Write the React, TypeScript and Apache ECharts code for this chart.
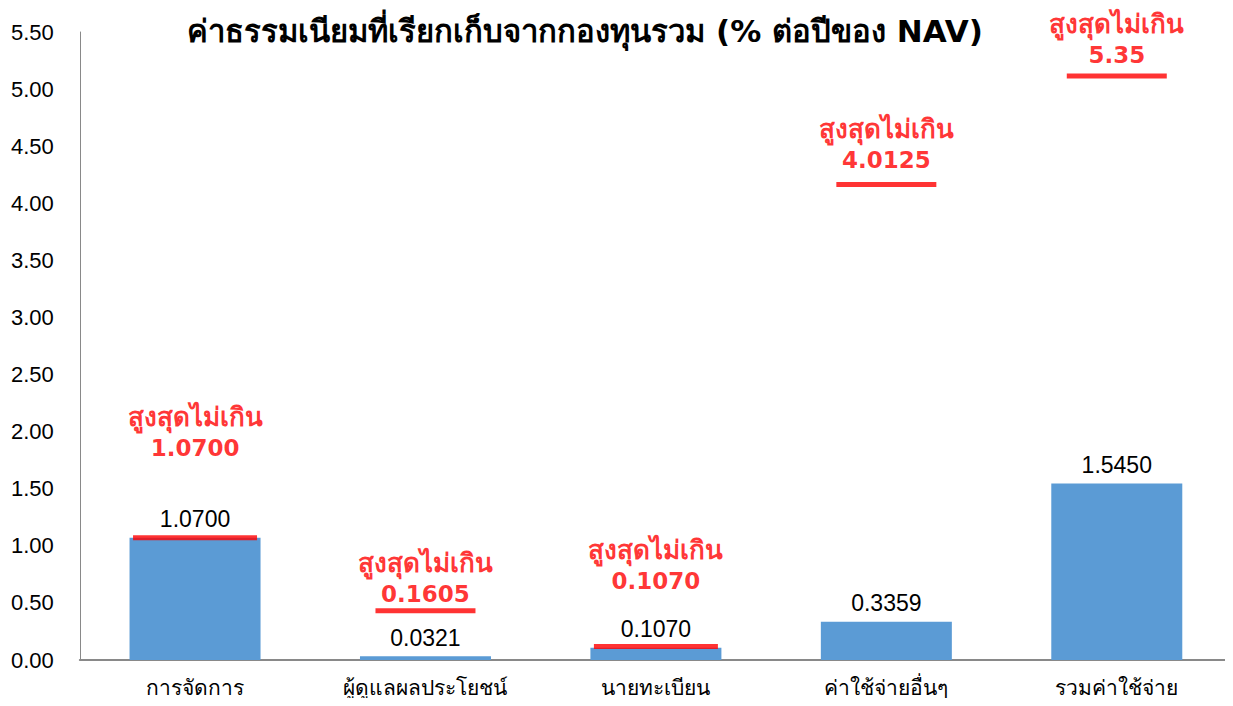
import React, { useEffect, useRef } from "react";
import * as echarts from "echarts";

const categories = ["การจัดการ", "ผู้ดูแลผลประโยชน์", "นายทะเบียน", "ค่าใช้จ่ายอื่นๆ", "รวมค่าใช้จ่าย"];
const actualValues = [1.07, 0.0321, 0.107, 0.3359, 1.545];
const actualLabels = ["1.0700", "0.0321", "0.1070", "0.3359", "1.5450"];
const maxLabels = ["1.0700", "0.1605", "0.1070", "4.0125", "5.35"];
// where the red marker lines and red notes sit on the value axis
const markerLevels = [1.07, 0.431, 0.119, 4.165, 5.115];
const noteLevels = [1.994, 0.712, 0.83, 4.513, 5.438];
const yTicks = ["0.00", "0.50", "1.00", "1.50", "2.00", "2.50", "3.00", "3.50", "4.00", "4.50", "5.00", "5.50"];

const NUM = "'Liberation Sans', sans-serif";
const BOLD = "'DejaVu Sans', sans-serif";

export default function App() {
  const ref = useRef<HTMLDivElement>(null);
  useEffect(() => {
    if (!ref.current) return;
    const chart = echarts.init(ref.current, null, { renderer: "svg" });
    chart.setOption({
      animation: false,
      backgroundColor: "#ffffff",
      title: {
        text: "ค่าธรรมเนียมที่เรียกเก็บจากกองทุนรวม (% ต่อปีของ NAV)",
        left: 572,
        textAlign: "center",
        top: 2,
        textStyle: { fontFamily: BOLD, fontSize: 31, fontWeight: "bold", color: "#000" },
      },
      grid: { left: 71, right: 1, top: 24, bottom: 32 },
      xAxis: {
        type: "category",
        data: categories,
        axisLine: { lineStyle: { color: "#898989", width: 2 } },
        axisTick: { show: false },
        axisLabel: { fontFamily: NUM, fontSize: 21, color: "#000", margin: 17 },
      },
      yAxis: {
        type: "value",
        min: 0,
        max: 5.5,
        interval: 0.5,
        splitLine: { show: false },
        axisLine: { show: true, lineStyle: { color: "#898989", width: 1 } },
        axisTick: { show: false },
        axisLabel: {
          fontFamily: NUM,
          fontSize: 22,
          color: "#000",
          margin: 26,
          formatter: (v: number) => yTicks[Math.round(v / 0.5)] ?? v.toFixed(2),
        },
      },
      series: [
        {
          type: "bar",
          data: actualValues,
          barWidth: 131,
          itemStyle: { color: "#5B9BD5" },
          label: {
            show: true,
            position: "top",
            distance: 7,
            fontFamily: NUM,
            fontSize: 23,
            color: "#000",
            formatter: (p: any) => actualLabels[p.dataIndex],
          },
          z: 2,
        },
        {
          type: "scatter",
          data: markerLevels,
          symbol: "rect",
          symbolSize: (_v: any, p: any) => [p.dataIndex === 0 || p.dataIndex === 2 ? 124 : 100, 5],
          itemStyle: { color: "#FF0000" },
          z: 3,
        },
        {
          type: "scatter",
          data: noteLevels,
          symbolSize: 1,
          itemStyle: { color: "rgba(0,0,0,0)" },
          label: {
            show: true,
            position: "inside",
            color: "#FF0000",
            formatter: (p: any) => "{t|สูงสุดไม่เกิน}\n{n|" + maxLabels[p.dataIndex] + "}",
            rich: {
              t: { fontFamily: BOLD, fontSize: 26, fontWeight: "bold", color: "#FF0000", lineHeight: 31, align: "center" },
              n: { fontFamily: BOLD, fontSize: 23, fontWeight: "bold", color: "#FF0000", lineHeight: 31, align: "center" },
            },
          },
          z: 4,
        },
      ],
    });
    return () => chart.dispose();
  }, []);
  return <div ref={ref} style={{ width: 1225, height: 690 }} />;
}
